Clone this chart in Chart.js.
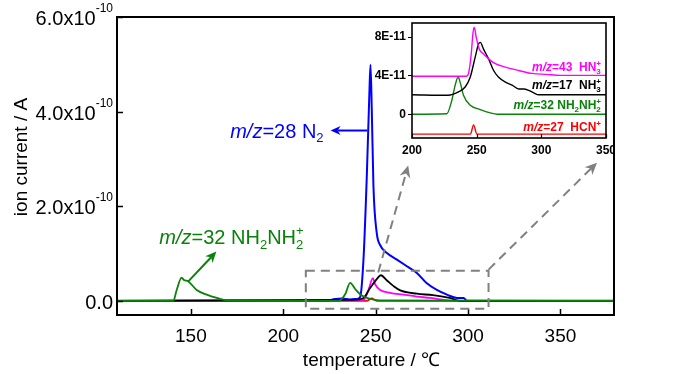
<!DOCTYPE html>
<html>
<head>
<meta charset="utf-8">
<script src="https://cdn.jsdelivr.net/npm/chart.js@4.4.0/dist/chart.umd.min.js"></script>
<style>
  html, body { margin: 0; padding: 0; background: #fff; }
  #wrap { position: relative; width: 700px; height: 374px; }
  #mainChart { position: absolute; left: 0; top: 0; }
  #insetChart { position: absolute; left: 360px; top: 10px; }
</style>
</head>
<body>
<div id="wrap">
  <canvas id="mainChart" width="700" height="374"></canvas>
  <canvas id="insetChart" width="255" height="150"></canvas>
</div>
<script>
// main plot: temperature (C) and ion current in units of 1e-10 A
var tN2 = [110, 224, 228, 232, 236, 240, 241.6, 243.4, 245.2, 246.6, 247.2, 247.9, 248.8, 250.6, 252.4, 256.1, 261.5, 266.9, 272.3, 277.7, 283.1, 288.6, 294, 297.6, 299.4, 380];
var iN2 = [0, 0, 0.04, 0.05, 0.03, 0.04, 0.08, 0.87, 2.63, 4.39, 4.99, 4.04, 2.42, 1.43, 1.18, 1.01, 0.87, 0.73, 0.59, 0.37, 0.23, 0.13, 0.06, 0.06, 0, 0];
var tHN3 = [110, 243.4, 246.1, 248.5, 249.7, 252.4, 257.9, 265, 272.3, 279.5, 286.7, 292, 380];
var iHN3 = [0, 0.02, 0.23, 0.48, 0.35, 0.23, 0.17, 0.13, 0.09, 0.06, 0.02, 0, 0];
var tNH3 = [110, 238, 243.4, 247, 250.6, 252.8, 256.1, 259.7, 263.3, 272.3, 281, 290, 296, 380];
var iNH3 = [0, 0.02, 0.06, 0.27, 0.46, 0.54, 0.43, 0.31, 0.22, 0.15, 0.12, 0.06, 0, 0];
var tN2H4 = [110, 140.5, 142.3, 145, 146.2, 148.6, 153.1, 158.6, 164, 169.4, 230, 233.5, 236.2, 238.9, 242.5, 247, 252, 380];
var iN2H4 = [0, 0, 0.23, 0.49, 0.44, 0.41, 0.23, 0.13, 0.06, 0.01, 0, 0.14, 0.38, 0.25, 0.11, 0.04, 0.01, 0];
var tHCN = [110, 245, 247.9, 250.5, 380];
var iHCN = [0, 0, 0.05, 0, 0];

var xTicks = [150, 200, 250, 300, 350];
var yTicks = [0, 2, 4, 6];
var yTickText = [["0.0", ""], ["2.0x10", "-10"], ["4.0x10", "-10"], ["6.0x10", "-10"]];

// inset: temperature (C) and ion current in units of 1e-11 A above each trace's baseline
var insetOffsets = [4, 2, 0, -2]; // HN3, NH3, N2H4, HCN
var tInHN3 = [200, 242, 243.7, 245.8, 247.1, 248.1, 249.7, 252, 255.3, 259.2, 264.4, 272.2, 282.5, 292.9, 304, 315, 350];
var iInHN3 = [-0.1, -0.1, 0.2, 2.2, 4.3, 4.95, 3.9, 2.7, 2.2, 1.7, 1.2, 0.85, 0.5, 0.2, 0.1, 0, 0];
var tInNH3 = [200, 228, 235.9, 241.1, 245, 248.9, 251.5, 252.8, 255.3, 259.2, 263.1, 267, 272.2, 277.4, 282.5, 286.4, 290.3, 294.1, 298, 350];
var iInNH3 = [0, -0.05, 0.3, 0.8, 1.8, 3.9, 5.25, 5.4, 4.7, 3.7, 2.5, 1.8, 1.3, 1.0, 0.6, 0.6, 0.45, 0.2, 0, 0];
var tInN2H4 = [200, 226.9, 230.8, 233.4, 235.7, 237.2, 239.8, 245, 252.8, 260.5, 266, 350];
var iInN2H4 = [0, 0.05, 1.44, 3.0, 3.83, 3.3, 1.95, 0.92, 0.48, 0.14, 0, 0];
var tInHCN = [200, 245.2, 247.6, 250.2, 350];
var iInHCN = [-0.05, -0.05, 0.9, -0.05, -0.05];
var inXTicks = [200, 250, 300, 350];
var inYTicks = [0, 4, 8];
var inYTickText = ["0", "4E-11", "8E-11"];

var BLUE = "#0000ff", GREEN = "#0a820a", MAGENTA = "#ff00ff", RED = "#ff0000", BLACK = "#000000", GREY = "#808080";
var FONT = '"Liberation Sans", Arial, sans-serif';

function pts(t, v, off) {
  off = off || 0;
  return t.map(function (x, k) { return { x: x, y: v[k] + off }; });
}

function ds(data, color, w) {
  return { data: data, borderColor: color, borderWidth: w, pointRadius: 0, fill: false, cubicInterpolationMode: "monotone" };
}

function fontStr(size, bold, italic) {
  return (italic ? "italic " : "") + (bold ? "bold " : "") + size + "px " + FONT;
}

// parts: [text, kind]  kind: "" normal, "i" italic, "sub", "sup", "subsup" (text = [sub, sup])
function drawRich(ctx, parts, x, y, o) {
  var size = o.size, bold = o.bold, small = o.small || Math.round(size * 0.62);
  var supUp = o.supUp || size * 0.5;
  var items = [], w = 0;
  parts.forEach(function (p) {
    var kind = p[1] || "", ww;
    if (kind === "subsup") {
      ctx.font = fontStr(small, bold, false);
      ww = Math.max(ctx.measureText(p[0][0]).width, ctx.measureText(p[0][1]).width);
    } else {
      ctx.font = fontStr(kind === "sub" || kind === "sup" ? small : size, bold, kind === "i");
      ww = ctx.measureText(p[0]).width;
    }
    items.push({ t: p[0], kind: kind, w: ww });
    w += ww;
  });
  var cx = o.align === "right" ? x - w : o.align === "center" ? x - w / 2 : x;
  var base = y + size * 0.36;
  ctx.save();
  ctx.fillStyle = o.color;
  ctx.textAlign = "left";
  ctx.textBaseline = "alphabetic";
  items.forEach(function (it) {
    if (it.kind === "subsup") {
      ctx.font = fontStr(small, bold, false);
      ctx.fillText(it.t[0], cx, base + size * 0.22);
      ctx.fillText(it.t[1], cx, base - size * 0.45);
    } else if (it.kind === "sub") {
      ctx.font = fontStr(small, bold, false);
      ctx.fillText(it.t, cx, base + size * 0.22);
    } else if (it.kind === "sup") {
      ctx.font = fontStr(small, bold, false);
      ctx.fillText(it.t, cx, base - supUp);
    } else {
      ctx.font = fontStr(size, bold, it.kind === "i");
      ctx.fillText(it.t, cx, base);
    }
    cx += it.w;
  });
  ctx.restore();
}

function arrow(ctx, x1, y1, x2, y2, color, width, head, half, dash) {
  var a = Math.atan2(y2 - y1, x2 - x1), c = Math.cos(a), s = Math.sin(a);
  var bx = x2 - head * c, by = y2 - head * s;
  ctx.save();
  ctx.strokeStyle = color;
  ctx.fillStyle = color;
  ctx.lineWidth = width;
  ctx.setLineDash(dash || []);
  ctx.beginPath();
  ctx.moveTo(x1, y1);
  ctx.lineTo(x2 - head * 0.7 * c, y2 - head * 0.7 * s);
  ctx.stroke();
  ctx.setLineDash([]);
  ctx.beginPath();
  ctx.moveTo(x2, y2);
  ctx.lineTo(bx + half * s, by - half * c);
  ctx.lineTo(x2 - head * 0.7 * c, y2 - head * 0.7 * s);
  ctx.lineTo(bx - half * s, by + half * c);
  ctx.closePath();
  ctx.fill();
  ctx.restore();
}

var mainDecor = {
  id: "mainDecor",
  afterDraw: function (chart) {
    var ctx = chart.ctx, a = chart.chartArea, sx = chart.scales.x, sy = chart.scales.y;
    ctx.save();
    ctx.strokeStyle = "#000";
    ctx.lineWidth = 2;
    ctx.strokeRect(a.left, a.top, a.right - a.left, a.bottom - a.top);
    ctx.lineWidth = 1.5;
    ctx.beginPath();
    xTicks.forEach(function (v) {
      var px = Math.round(sx.getPixelForValue(v)) + 0.5;
      ctx.moveTo(px, a.bottom); ctx.lineTo(px, a.bottom - 6);
    });
    yTicks.forEach(function (v) {
      var py = Math.round(sy.getPixelForValue(v)) + 0.5;
      ctx.moveTo(a.left, py); ctx.lineTo(a.left + 6, py);
    });
    ctx.stroke();

    ctx.fillStyle = "#000";
    ctx.font = fontStr(19, false, false);
    ctx.textAlign = "center";
    ctx.textBaseline = "middle";
    xTicks.forEach(function (v) {
      ctx.fillText(String(v), sx.getPixelForValue(v), a.bottom + 22);
    });
    yTicks.forEach(function (v, k) {
      var tx = yTickText[k];
      var parts = [[tx[0], ""]];
      if (tx[1]) parts.push([tx[1], "sup"]);
      drawRich(ctx, parts, a.left - 4, sy.getPixelForValue(v) + 1, { size: 20, small: 12, supUp: 13, color: "#000", align: "right" });
    });

    ctx.font = fontStr(19, false, false);
    ctx.textAlign = "center";
    ctx.textBaseline = "middle";
    ctx.fillText("temperature / \u2103", (a.left + a.right) / 2 + 6, 361);
    ctx.save();
    ctx.translate(22, 157);
    ctx.rotate(-Math.PI / 2);
    ctx.font = fontStr(19, false, false);
    ctx.fillText("ion current / A", 0, 0);
    ctx.restore();

    // annotations, placed in data coordinates
    function X(v) { return sx.getPixelForValue(v); }
    function Y(v) { return sy.getPixelForValue(v); }
    drawRich(ctx, [["m/z", "i"], ["=28 N", ""], ["2", "sub"]], X(221.8), Y(3.6), { size: 20, small: 13, color: BLUE, align: "right" });
    arrow(ctx, X(245.5), Y(3.6), X(225.6), Y(3.6), BLUE, 2, 10, 4.5);
    drawRich(ctx, [["m/z", "i"], ["=32 NH", ""], ["2", "sub"], ["NH", ""], [["2", "+"], "subsup"]], X(132.9), Y(1.35), { size: 20, small: 13, color: GREEN, align: "left" });
    arrow(ctx, X(148.6), Y(0.41), X(163.8), Y(1.04), GREEN, 2, 11, 5);

    ctx.strokeStyle = GREY;
    ctx.lineWidth = 2;
    ctx.setLineDash([9, 6]);
    ctx.strokeRect(X(212.2), Y(0.634), X(311.1) - X(212.2), Y(-0.169) - Y(0.634));
    ctx.setLineDash([]);
    arrow(ctx, X(251.4), Y(0.6), X(267.6), Y(2.86), GREY, 2, 12, 5.5, [9, 6]);
    arrow(ctx, X(311.1), Y(0.66), X(369.8), Y(2.92), GREY, 2, 12, 5.5, [9, 6]);
    ctx.restore();
  }
};

var insetDecor = {
  id: "insetDecor",
  afterDraw: function (chart) {
    var ctx = chart.ctx, a = chart.chartArea, sx = chart.scales.x, sy = chart.scales.y;
    ctx.save();
    ctx.strokeStyle = "#000";
    ctx.lineWidth = 1.6;
    ctx.strokeRect(a.left, a.top, a.right - a.left, a.bottom - a.top);
    ctx.lineWidth = 1.2;
    ctx.beginPath();
    inXTicks.forEach(function (v) {
      var px = Math.round(sx.getPixelForValue(v)) + 0.5;
      ctx.moveTo(px, a.bottom); ctx.lineTo(px, a.bottom - 4);
    });
    inYTicks.forEach(function (v) {
      var py = Math.round(sy.getPixelForValue(v)) + 0.5;
      ctx.moveTo(a.left, py); ctx.lineTo(a.left - 4, py);
    });
    ctx.stroke();
    ctx.fillStyle = "#000";
    ctx.font = fontStr(12, true, false);
    ctx.textBaseline = "middle";
    ctx.textAlign = "center";
    inXTicks.forEach(function (v) {
      ctx.fillText(String(v), sx.getPixelForValue(v), a.bottom + 13);
    });
    ctx.textAlign = "right";
    inYTicks.forEach(function (v, k) {
      ctx.fillText(inYTickText[k], a.left - 6, sy.getPixelForValue(v));
    });

    var rx = a.right - 5, o = { size: 12, small: 8, bold: true, align: "right" };
    function Y(v) { return sy.getPixelForValue(v); }
    drawRich(ctx, [["m/z", "i"], ["=43  HN", ""], [["3", "+"], "subsup"]], rx, Y(4.9), Object.assign({ color: MAGENTA }, o));
    drawRich(ctx, [["m/z", "i"], ["=17  NH", ""], [["3", "+"], "subsup"]], rx, Y(3.0), Object.assign({ color: BLACK }, o));
    drawRich(ctx, [["m/z", "i"], ["=32 NH", ""], ["2", "sub"], ["NH", ""], [["2", "+"], "subsup"]], rx, Y(0.95), Object.assign({ color: GREEN }, o));
    drawRich(ctx, [["m/z", "i"], ["=27  HCN", ""], ["+", "sup"]], rx, Y(-1.3), Object.assign({ color: RED, supUp: 5 }, o));
    ctx.restore();
  }
};

// Chart.js paints dataset 0 last, so the green trace sits on top like in the original
var mainChart = new Chart(document.getElementById("mainChart"), {
  type: "line",
  data: {
    datasets: [
      ds(pts(tN2H4, iN2H4), GREEN, 1.8),
      ds(pts(tNH3, iNH3), BLACK, 1.8),
      ds(pts(tHN3, iHN3), MAGENTA, 1.8),
      ds(pts(tHCN, iHCN), RED, 1.8),
      ds(pts(tN2, iN2), BLUE, 2)
    ]
  },
  options: {
    responsive: false,
    animation: false,
    layout: { padding: { left: 117, right: 86, top: 17, bottom: 59 } },
    scales: {
      x: { type: "linear", min: 110, max: 379, display: false },
      y: { type: "linear", min: -0.3, max: 6, display: false }
    },
    plugins: { legend: { display: false }, tooltip: { enabled: false } }
  },
  plugins: [mainDecor]
});

var insetChart = new Chart(document.getElementById("insetChart"), {
  type: "line",
  data: {
    datasets: [
      ds(pts(tInHN3, iInHN3, insetOffsets[0]), MAGENTA, 1.4),
      ds(pts(tInNH3, iInNH3, insetOffsets[1]), BLACK, 1.4),
      ds(pts(tInN2H4, iInN2H4, insetOffsets[2]), GREEN, 1.4),
      ds(pts(tInHCN, iInHCN, insetOffsets[3]), RED, 1.4)
    ]
  },
  options: {
    responsive: false,
    animation: false,
    layout: { padding: { left: 52, right: 9, top: 13, bottom: 22 } },
    scales: {
      x: { type: "linear", min: 200, max: 350, display: false },
      y: { type: "linear", min: -2.45, max: 9.39, display: false }
    },
    plugins: { legend: { display: false }, tooltip: { enabled: false } }
  },
  plugins: [insetDecor]
});
</script>
</body>
</html>
